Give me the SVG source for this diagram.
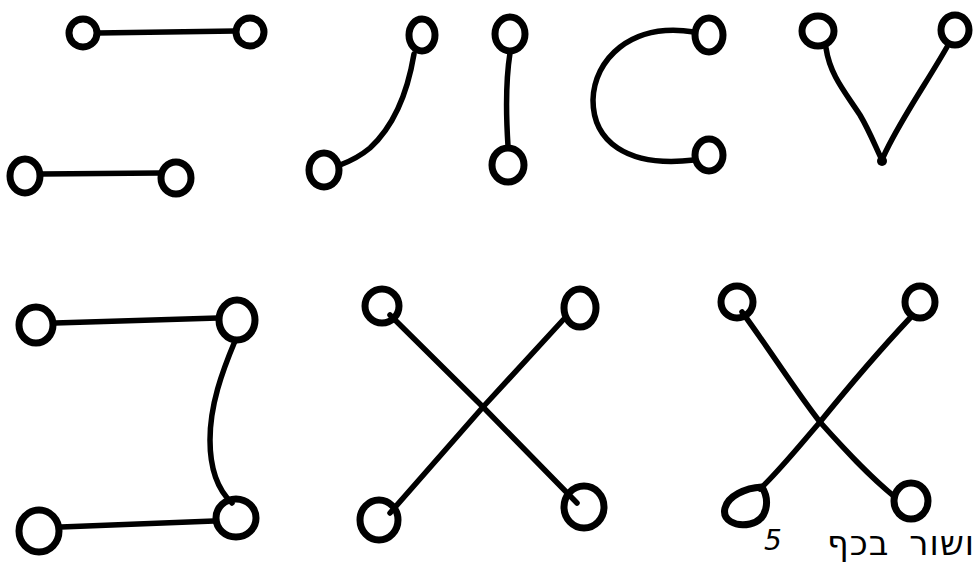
<svg xmlns="http://www.w3.org/2000/svg" width="977" height="572" viewBox="0 0 977 572">
<style>
.n{fill:none;stroke:#000;stroke-width:7}
.c{fill:none;stroke:#000;stroke-width:5.5;stroke-linecap:round;stroke-linejoin:round}
.t{font-family:"DejaVu Sans","Liberation Sans",sans-serif;fill:#000}
</style>
<rect width="977" height="572" fill="#fff"/>
<g id="connectors">
<path class="c" d="M97 33 L236 31"/>
<path class="c" d="M41 174 L160 173"/>
<path class="c" d="M414 54 C408 90 395 125 370 148 C358 158 348 162 340 165"/>
<path class="c" d="M510 53 C505 85 506 115 508 146"/>
<path class="c" d="M694 32 C630 22 594 60 593 100 C593 140 625 168 694 160"/>
<path class="c" d="M826 48 C830 75 845 92 860 115 C870 132 876 148 882 160 M947 47 C935 68 922 88 910 108 C898 128 888 145 882 160"/>
<circle cx="882" cy="161" r="5" fill="#000"/>
<path class="c" d="M55 323 L218 318"/>
<path class="c" d="M61 527 L214 521"/>
<path class="c" d="M235 341 C222 372 210 405 210 440 C210 470 218 490 232 503"/>
<path class="c" d="M390 315 L483 407 L577 503"/>
<path class="c" d="M563 320 L483 407 L390 513"/>
<path class="c" d="M742 312 C770 350 795 390 820 422 C845 450 868 475 895 497"/>
<path class="c" d="M910 318 C880 350 850 385 820 422 C800 445 780 470 760 489"/>
</g>
<g id="n1"><ellipse class="n" cx="83" cy="33" rx="14" ry="14"/></g>
<g id="n2"><ellipse class="n" cx="250" cy="32" rx="14" ry="14"/></g>
<g id="n3"><ellipse class="n" cx="25" cy="176" rx="15" ry="17"/></g>
<g id="n4"><ellipse class="n" cx="176" cy="178" rx="15" ry="16"/></g>
<g id="n5"><ellipse class="n" cx="422" cy="35" rx="13" ry="16"/></g>
<g id="n6"><ellipse class="n" cx="324" cy="170" rx="15" ry="17"/></g>
<g id="n7"><ellipse class="n" cx="510" cy="34" rx="15" ry="17"/></g>
<g id="n8"><ellipse class="n" cx="508" cy="165" rx="16" ry="17"/></g>
<g id="n9"><ellipse class="n" cx="709" cy="35" rx="14" ry="17"/></g>
<g id="n10"><ellipse class="n" cx="709" cy="155" rx="14" ry="16"/></g>
<g id="n11"><ellipse class="n" cx="818" cy="31" rx="16" ry="15"/></g>
<g id="n12"><ellipse class="n" cx="955" cy="30" rx="14" ry="15"/></g>
<g id="n13"><ellipse class="n" cx="36" cy="325" rx="17" ry="18"/></g>
<g id="n14"><ellipse class="n" cx="237" cy="320" rx="18" ry="20"/></g>
<g id="n15"><ellipse class="n" cx="39" cy="531" rx="20" ry="21"/></g>
<g id="n16"><ellipse class="n" cx="236" cy="518" rx="20" ry="19"/></g>
<g id="n17"><ellipse class="n" cx="382" cy="306" rx="17" ry="17"/></g>
<g id="n18"><ellipse class="n" cx="580" cy="308" rx="16" ry="19"/></g>
<g id="n19"><ellipse class="n" cx="379" cy="520" rx="19" ry="20"/></g>
<g id="n20"><ellipse class="n" cx="584" cy="507" rx="20" ry="21"/></g>
<g id="n21"><ellipse class="n" cx="737" cy="302" rx="16" ry="16"/></g>
<g id="n22"><ellipse class="n" cx="920" cy="302" rx="15" ry="16"/></g>
<g id="n23"><path class="n" d="M762 487 C770 500 768 520 750 524 C735 527 722 520 725 508 C728 496 745 488 762 487 Z"/></g>
<g id="n24"><ellipse class="n" cx="911" cy="501" rx="17" ry="18"/></g>
<text class="t" x="764" y="550" font-size="28" font-style="italic">5</text>
<text class="t" x="975" y="555" font-size="34" letter-spacing="1" word-spacing="8" text-anchor="end">ושור בכף</text>
</svg>
